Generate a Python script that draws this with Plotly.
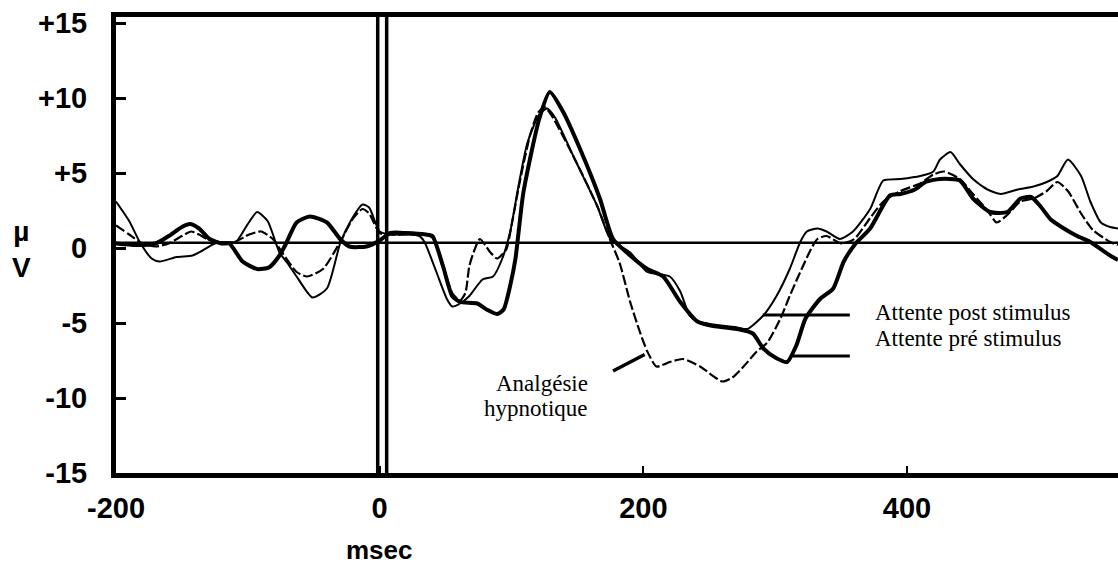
import plotly.graph_objects as go

# Evoked potential traces (msec vs microvolts)
pre_t = [-200, -185, -170, -160, -150, -144, -137, -129, -120, -114, -104, -93, -84, -76, -71, -63, -53,
         -40, -30, -23, -10, 0, 8, 20, 35, 40, 48, 55, 61, 74, 81, 89, 94, 99, 103, 109, 121, 129, 139,
         152, 167, 177, 190, 203, 215, 228, 241, 253, 271, 283, 291, 300, 309, 316, 323, 334, 344, 352,
         361, 372, 387, 395, 406, 414, 425, 440, 450, 463, 476, 486, 494, 501, 509, 519, 529, 539, 554, 560]
pre_v = [0.3, 0.2, 0.3, 0.8, 1.4, 1.6, 1.3, 0.6, 0.3, 0.3, -0.9, -1.4, -1.3, -0.5, 0.3, 1.7, 2.1,
         1.7, 0.6, 0.1, 0.1, 0.5, 1.0, 1.0, 0.9, 0.8, -1.2, -3.2, -3.6, -3.7, -4.1, -4.4, -4.1, -2.5, -0.7, 3.7, 8.6, 10.4, 9.1,
         6.6, 3.3, 0.6, -0.5, -1.4, -1.9, -3.6, -4.9, -5.2, -5.4, -5.7, -6.7, -7.3, -7.6, -6.5, -4.7, -3.4, -2.7, -0.9,
         0.3, 1.3, 3.5, 3.6, 3.9, 4.4, 4.6, 4.5, 3.3, 2.4, 2.4, 3.3, 3.4, 2.8, 1.9, 1.3, 0.8, 0.4, -0.5, -0.8]

post_t = [-200, -190, -182, -173, -167, -154, -142, -135, -125, -115, -109, -100, -93, -85, -76, -70, -63,
          -51, -40, -30, -22, -13, -8, 0, 8, 20, 30, 34, 43, 51, 55, 61, 68, 78, 86, 93, 99, 105, 112, 121,
          127, 133, 147, 165, 175, 190, 203, 220, 228, 235, 241, 253, 271, 279, 291, 301, 311, 319, 324, 332,
          339, 349, 359, 372, 382, 395, 410, 420, 425, 433, 440, 450, 461, 471, 484, 496, 506, 514, 522, 532,
          539, 547, 554, 560]
post_v = [3.1, 1.8, 0.4, -0.7, -0.9, -0.6, -0.5, -0.2, 0.3, 0.4, 0.4, 1.6, 2.4, 1.8, -0.3, -1.0, -1.9,
          -3.3, -2.7, 0.3, 1.8, 2.9, 2.7, 1.1, 0.9, 0.9, 0.8, 0.4, -1.6, -3.4, -3.9, -3.7, -3.2, -2.1, -1.9, -0.7, 1.1, 4.0, 7.0, 8.9,
          9.3, 8.7, 6.1, 2.8, 0.6, -0.3, -1.6, -1.9, -2.9, -4.5, -4.9, -5.1, -5.3, -5.4, -4.5, -3.2, -1.4, 0.4, 1.1, 1.3,
          1.1, 0.6, 1.1, 2.6, 4.5, 4.6, 4.8, 5.1, 5.9, 6.4, 5.6, 4.6, 3.9, 3.6, 3.9, 4.1, 4.4, 4.8, 5.9, 4.8,
          3.1, 1.7, 1.4, 1.3]

hyp_t = [-200, -190, -180, -170, -160, -150, -143, -137, -131, -120, -110, -99, -90, -81, -74, -63, -55,
         -43, -30, -20, -13, -8, 0, 8, 20, 35, 40, 48, 55, 61, 65, 68, 72, 76, 80, 84, 89, 96, 100, 106, 114,
         120, 125, 130, 147, 165, 175, 182, 190, 197, 203, 210, 220, 230, 243, 260, 268, 276, 286, 294, 304,
         311, 319, 327, 332, 339, 350, 360, 372, 382, 395, 410, 420, 428, 440, 450, 461, 468, 476, 486, 496,
         506, 514, 522, 532, 541, 554, 560]
hyp_v = [1.5, 0.9, 0.3, 0.1, 0.3, 0.8, 1.1, 0.9, 0.6, 0.4, 0.4, 0.9, 1.1, 0.6, -0.3, -1.6, -1.9,
         -1.4, 0.4, 2.0, 2.6, 2.3, 1.0, 0.9, 0.9, 0.9, 0.7, -1.2, -3.0, -3.5, -3.0, -1.2, -0.1, 0.6, 0.2, -0.3, -0.7, -0.1, 1.5, 4.3, 7.5,
         9.0, 9.4, 8.9, 6.1, 2.8, 0.5, -1.0, -3.6, -5.5, -6.9, -7.9, -7.6, -7.4, -7.9, -8.9, -8.6, -7.9, -6.9, -6.3, -4.7,
         -3.2, -1.6, -0.1, 0.6, 0.8, 0.3, 0.6, 2.0, 3.1, 3.8, 4.3, 4.9, 5.1, 4.6, 3.6, 2.5, 1.7, 2.2, 3.1, 3.3,
         3.8, 4.4, 3.8, 2.3, 1.2, 0.4, 0.2]

x_ticks = [-200, 0, 200, 400]
x_ticktext = ["-200", "0", "200", "400"]
y_ticks = [15, 10, 5, 0, -5, -10, -15]
y_ticktext = ["+15", "+10", "+5", "0", "-5", "-10", "-15"]

X_RANGE = [-200, 560]
Y_RANGE = [-15, 15.4]
BASELINE = 0.35

fig = go.Figure()

fig.add_trace(go.Scatter(x=hyp_t, y=hyp_v, mode="lines", name="Analgésie hypnotique",
                         line=dict(color="black", width=2.2, dash="10px,3px", shape="spline", smoothing=0.6)))
fig.add_trace(go.Scatter(x=post_t, y=post_v, mode="lines", name="Attente post stimulus",
                         line=dict(color="black", width=2.0, shape="spline", smoothing=0.6)))
fig.add_trace(go.Scatter(x=pre_t, y=pre_v, mode="lines", name="Attente pré stimulus",
                         line=dict(color="black", width=4.0, shape="spline", smoothing=0.6)))

# baseline and stimulus onset marker (double line)
fig.add_shape(type="line", x0=X_RANGE[0], x1=X_RANGE[1], y0=BASELINE, y1=BASELINE,
              line=dict(color="black", width=2.5), layer="above")
for xv in (-1.5, 5.3):
    fig.add_shape(type="line", x0=xv, x1=xv, y0=Y_RANGE[0], y1=Y_RANGE[1],
                  line=dict(color="black", width=3.5), layer="above")

# label leader lines
fig.add_shape(type="line", x0=290.6, x1=356.6, y0=-4.47, y1=-4.47, line=dict(color="black", width=3))
fig.add_shape(type="line", x0=313.4, x1=356.6, y0=-7.2, y1=-7.2, line=dict(color="black", width=3))
fig.add_shape(type="line", x0=177, x1=201, y0=-8.2, y1=-7.1, line=dict(color="black", width=3.5))

serif = dict(family="Liberation Serif, Times New Roman, serif", size=23, color="black")
fig.add_annotation(x=374, y=-4.27, text="Attente post stimulus", showarrow=False,
                   xanchor="left", yanchor="middle", font=serif)
fig.add_annotation(x=374, y=-6.0, text="Attente pré stimulus", showarrow=False,
                   xanchor="left", yanchor="middle", font=serif)
fig.add_annotation(x=159.3, y=-9.0, text="Analgésie", showarrow=False,
                   xanchor="right", yanchor="middle", font=serif)
fig.add_annotation(x=159.3, y=-10.67, text="hypnotique", showarrow=False,
                   xanchor="right", yanchor="middle", font=serif)

fig.add_annotation(xref="paper", yref="paper", x=0.263, y=-0.168, text="<b>msec</b>", showarrow=False,
                   xanchor="center", yanchor="middle",
                   font=dict(family="Liberation Sans, Arial, sans-serif", size=26, color="black"))
fig.add_annotation(xref="paper", yref="paper", x=-0.094, y=0.49, text="<b>µ<br>V</b>", showarrow=False,
                   xanchor="center", yanchor="middle",
                   font=dict(family="Liberation Sans, Arial, sans-serif", size=28, color="black"))

tick_font = dict(family="Liberation Sans, Arial, sans-serif", size=29, color="black")
fig.update_layout(
    width=1118, height=567,
    margin=dict(l=116, r=0, t=17, b=94),
    paper_bgcolor="white", plot_bgcolor="white",
    showlegend=False,
    xaxis=dict(range=X_RANGE, tickvals=x_ticks, ticktext=["<b>%s</b>" % t for t in x_ticktext],
               showgrid=False, zeroline=False,
               showline=True, linewidth=5, linecolor="black", mirror=True,
               ticks="inside", ticklen=7, tickwidth=2, tickcolor="black", ticklabelstandoff=5,
               tickfont=tick_font),
    yaxis=dict(range=Y_RANGE, tickvals=y_ticks, ticktext=["<b>%s</b>" % t for t in y_ticktext],
               showgrid=False, zeroline=False,
               showline=True, linewidth=5, linecolor="black", mirror=False,
               ticks="inside", ticklen=10, tickwidth=3, tickcolor="black", ticklabelstandoff=18,
               tickfont=tick_font),
)

fig.write_html("out.html")
